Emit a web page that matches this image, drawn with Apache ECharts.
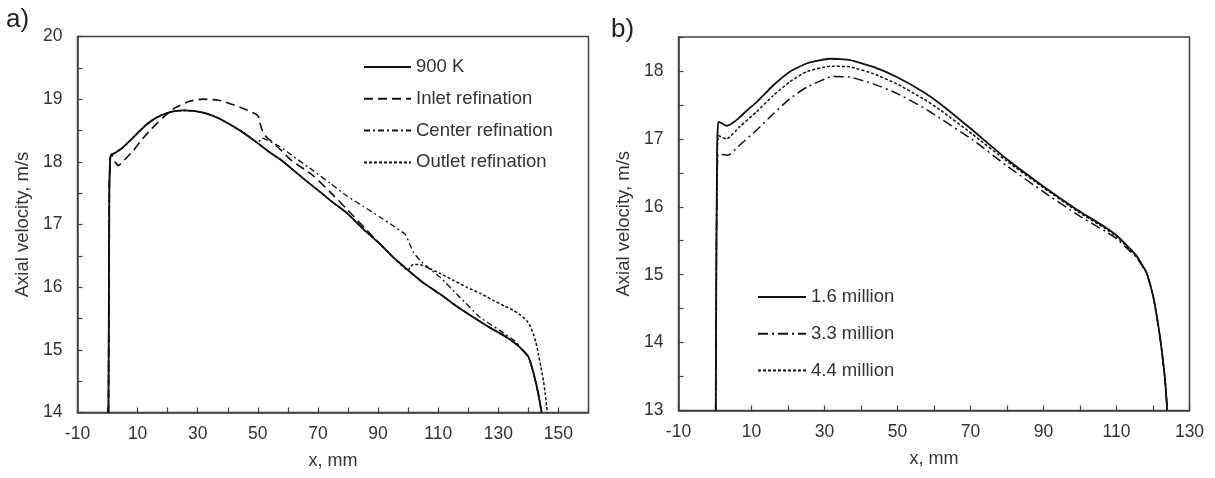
<!DOCTYPE html>
<html>
<head>
<meta charset="utf-8">
<script src="https://cdn.jsdelivr.net/npm/echarts@6/dist/echarts.min.js"></script>
<style>
html,body{margin:0;padding:0;background:#fff;}
#chart{width:1215px;height:478px;}
</style>
</head>
<body>
<div id="chart"></div>
<script>
// ---------- Panel a) ----------
const aNames = ['900 K', 'Inlet refination', 'Center refination', 'Outlet refination'];
const k900X = [0.3,0.6,0.9,1.3,2.4,4.9,7.5,10,12.6,15.1,17.7,21.5,25.3,29.1,33,36.8,40.6,44.4,48.2,51,54,57.4,61,66,71.2,75,79.5,85,90.6,95,100,105,110.6,116,121.7,127,132.8,137.2,140,141.6,143.3,144.4];
const k900Y = [14.0,17.6,18.06,18.12,18.14,18.22,18.34,18.46,18.58,18.67,18.74,18.8,18.82,18.81,18.77,18.7,18.6,18.49,18.36,18.26,18.15,18.04,17.9,17.7,17.5,17.35,17.19,16.93,16.69,16.48,16.27,16.07,15.89,15.7,15.52,15.36,15.2,15.04,14.89,14.65,14.3,14.0];
const inletX = [0.3,0.6,0.9,1.4,2.5,3.6,6,8.6,11,14.1,18.5,22.4,27.4,31.8,37.4,44.1,49,50.2,50.7,51.5,52.4,53.5,57.4,61,68.4,74,79.5,86,90.6,95,100,105,110.6,116,121.7,127,132.8,137.2,140,141.6,143.3,144.4];
const inletY = [14.0,17.6,18.06,18.12,18.0,17.94,18.05,18.18,18.33,18.5,18.71,18.86,18.97,19.0,18.98,18.87,18.77,18.72,18.62,18.5,18.42,18.37,18.2,18.03,17.78,17.52,17.25,16.92,16.69,16.48,16.27,16.07,15.89,15.7,15.52,15.36,15.2,15.04,14.89,14.65,14.3,14.0];
const centerX = [0.3,0.6,0.9,1.3,2.4,4.9,7.5,10,12.6,15.1,17.7,21.5,25.3,29.1,33,36.8,40.6,44.4,48.2,50,51.5,53,57.4,62,68.4,74,79.5,85,90.6,95,98.9,100,101.7,103.9,107,110.6,117.2,123.9,130.5,136.1,137.5,140,141.6,143.3,144.4];
const centerY = [14.0,17.6,18.06,18.12,18.14,18.22,18.34,18.46,18.58,18.67,18.74,18.8,18.82,18.81,18.77,18.7,18.6,18.49,18.36,18.31,18.38,18.35,18.24,18.08,17.86,17.66,17.46,17.29,17.12,16.98,16.85,16.75,16.56,16.43,16.3,16.16,15.84,15.52,15.31,15.12,15.02,14.89,14.65,14.3,14.0];
const outletX = [0.3,0.6,0.9,1.3,2.4,4.9,7.5,10,12.6,15.1,17.7,21.5,25.3,29.1,33,36.8,40.6,44.4,48.2,51,54,57.4,61,66,71.2,75,79.5,85,90.6,95,100,100.8,101.7,103.9,107,110.6,115,119.5,124,128.3,132,135,137.5,139.4,140.6,141.6,142.5,143.3,144.2,145,145.6,146.1,146.3];
const outletY = [14.0,17.6,18.06,18.12,18.14,18.22,18.34,18.46,18.58,18.67,18.74,18.8,18.82,18.81,18.77,18.7,18.6,18.49,18.36,18.26,18.15,18.04,17.9,17.7,17.5,17.35,17.19,16.93,16.69,16.48,16.27,16.33,16.36,16.36,16.3,16.22,16.11,16.0,15.9,15.79,15.7,15.63,15.55,15.47,15.38,15.26,15.12,14.94,14.72,14.51,14.3,14.09,14.0];

// ---------- Panel b) ----------
const bNames = ['1.6 million', '3.3 million', '4.4 million'];
const m16X = [0.2,0.4,0.6,0.9,1.5,3.2,5,6.8,9,11.4,16,20.5,25.1,31.5,37,43.4,49.8,57.1,61.6,70.5,80,90,99.4,106.9,110,113.4,115.5,118.3,120.1,121.9,123.3,123.9];
const m16Y = [13,15.5,16.9,17.25,17.24,17.19,17.24,17.32,17.43,17.54,17.79,17.99,18.11,18.18,18.16,18.06,17.91,17.69,17.52,17.13,16.7,16.3,15.95,15.7,15.58,15.4,15.28,15.02,14.67,14.09,13.45,13.0];
const m33X = [0.2,0.4,0.6,0.9,2,3.6,6.8,11.4,16,20.5,25.1,32.4,37,43.4,49.8,57.1,61.2,70.5,80,90,99.4,106.9,110,113.4,115.5,118.3,120.1,121.9,123.3,123.9];
const m33Y = [13,15.5,16.5,16.78,16.77,16.76,16.91,17.13,17.37,17.59,17.76,17.92,17.91,17.81,17.67,17.46,17.32,16.99,16.6,16.22,15.88,15.64,15.53,15.36,15.25,15.02,14.67,14.09,13.45,13.0];
const m44X = [0.2,0.4,0.6,0.9,2,3.2,6.8,11.4,16,20.5,25.1,31.5,37,43.4,49.8,57.1,61.6,70.5,80,90,99.4,106.9,110,113.4,115.5,118.3,120.1,121.9,123.3,123.9];
const m44Y = [13,15.5,16.8,17.05,17.02,17.0,17.18,17.4,17.64,17.84,17.99,18.07,18.06,17.96,17.81,17.59,17.43,17.07,16.67,16.28,15.93,15.68,15.56,15.38,15.27,15.02,14.67,14.09,13.45,13.0];

// axis tick labels
const aXLabels = [-10,10,30,50,70,90,110,130,150];
const bXLabels = [-10,10,30,50,70,90,110,130];
const aYLabels = [14,15,16,17,18,19,20];
const bYLabels = [13,14,15,16,17,18];

const zip = (xs, ys) => xs.map((x, i) => [x, ys[i]]);
const FONT = 'Liberation Sans, Arial, sans-serif';
const TXT = '#333333';
const AX = '#404040';

function xAxisCfg(gi, min, max, labels) {
  return {
    type: 'value', gridIndex: gi, min: min, max: max, interval: 10,
    name: 'x, mm', nameLocation: 'middle', nameGap: 40,
    nameTextStyle: {fontFamily: FONT, fontSize: 18, color: TXT},
    axisLine: {show: true, onZero: false, lineStyle: {color: AX, width: 1.5}},
    axisTick: {show: true, inside: true, length: 5, lineStyle: {color: AX, width: 1.2}},
    splitLine: {show: false},
    axisLabel: {
      fontFamily: FONT, fontSize: 17.5, color: TXT, margin: 13,
      showMinLabel: true, showMaxLabel: true,
      formatter: v => labels.indexOf(Math.round(v)) >= 0 && Math.abs(v - Math.round(v)) < 1e-6 ? String(Math.round(v)) : ''
    }
  };
}
function yAxisCfg(gi, min, max, labels) {
  return {
    type: 'value', gridIndex: gi, min: min, max: max, interval: 0.5,
    name: 'Axial velocity, m/s', nameLocation: 'middle', nameGap: 45, nameRotate: 90,
    nameTextStyle: {fontFamily: FONT, fontSize: 18.5, color: TXT},
    axisLine: {show: true, onZero: false, lineStyle: {color: AX, width: 1.5}},
    axisTick: {show: true, inside: true, length: 5, lineStyle: {color: AX, width: 1.2}},
    splitLine: {show: false},
    axisLabel: {
      fontFamily: FONT, fontSize: 17.5, color: TXT, margin: 15,
      showMinLabel: true, showMaxLabel: true,
      formatter: v => (Math.abs(v - Math.round(v)) < 1e-6 && labels.indexOf(Math.round(v)) >= 0) ? String(Math.round(v)) : ''
    }
  };
}
function lineSeries(name, data, xi, dash, width) {
  return {
    name: name, type: 'line', xAxisIndex: xi, yAxisIndex: xi,
    data: data, showSymbol: false, symbol: 'none', smooth: 0.15,
    lineStyle: {color: '#111111', width: width || 1.5, type: dash},
    itemStyle: {color: '#111111'},
    emphasis: {disabled: true}, animation: false, z: 3
  };
}
const legendCommon = {
  orient: 'vertical', padding: 0, itemHeight: 14, selectedMode: false,
  itemStyle: {opacity: 0},
  textStyle: {fontFamily: FONT, fontSize: 18.5, color: TXT}
};

const chart = echarts.init(document.getElementById('chart'), null, {renderer: 'canvas'});
chart.setOption({
  backgroundColor: '#ffffff',
  animation: false,
  grid: [
    {left: 77.5, top: 36.5, width: 511, height: 376, show: true, borderColor: AX, borderWidth: 1.5, backgroundColor: 'transparent'},
    {left: 678.5, top: 37, width: 511, height: 373.5, show: true, borderColor: AX, borderWidth: 1.5, backgroundColor: 'transparent'}
  ],
  xAxis: [xAxisCfg(0, -10, 160, aXLabels), xAxisCfg(1, -10, 130, bXLabels)],
  yAxis: [yAxisCfg(0, 14, 20, aYLabels), yAxisCfg(1, 13, 18.5, bYLabels)],
  legend: [
    Object.assign({}, legendCommon, {data: aNames, left: 363, top: 57.5, itemWidth: 47, itemGap: 12.8}),
    Object.assign({}, legendCommon, {data: bNames, left: 757, top: 287.5, itemWidth: 48, itemGap: 17.8})
  ],
  graphic: [
    {type: 'text', left: 6, top: 7, style: {text: 'a)', font: '26px ' + FONT, fill: '#222'}},
    {type: 'text', left: 611, top: 17, style: {text: 'b)', font: '26px ' + FONT, fill: '#222'}}
  ],
  series: [
    lineSeries(aNames[0], zip(k900X, k900Y), 0, 'solid', 1.8),
    lineSeries(aNames[1], zip(inletX, inletY), 0, [9, 5], 1.6),
    lineSeries(aNames[2], zip(centerX, centerY), 0, [6, 3, 2, 3], 1.3),
    lineSeries(aNames[3], zip(outletX, outletY), 0, [3, 2], 1.5),
    lineSeries(bNames[0], zip(m16X, m16Y), 1, 'solid', 1.8),
    lineSeries(bNames[1], zip(m33X, m33Y), 1, [10, 4, 2, 4], 1.5),
    lineSeries(bNames[2], zip(m44X, m44Y), 1, [3, 2], 1.5)
  ]
});
</script>
</body>
</html>
